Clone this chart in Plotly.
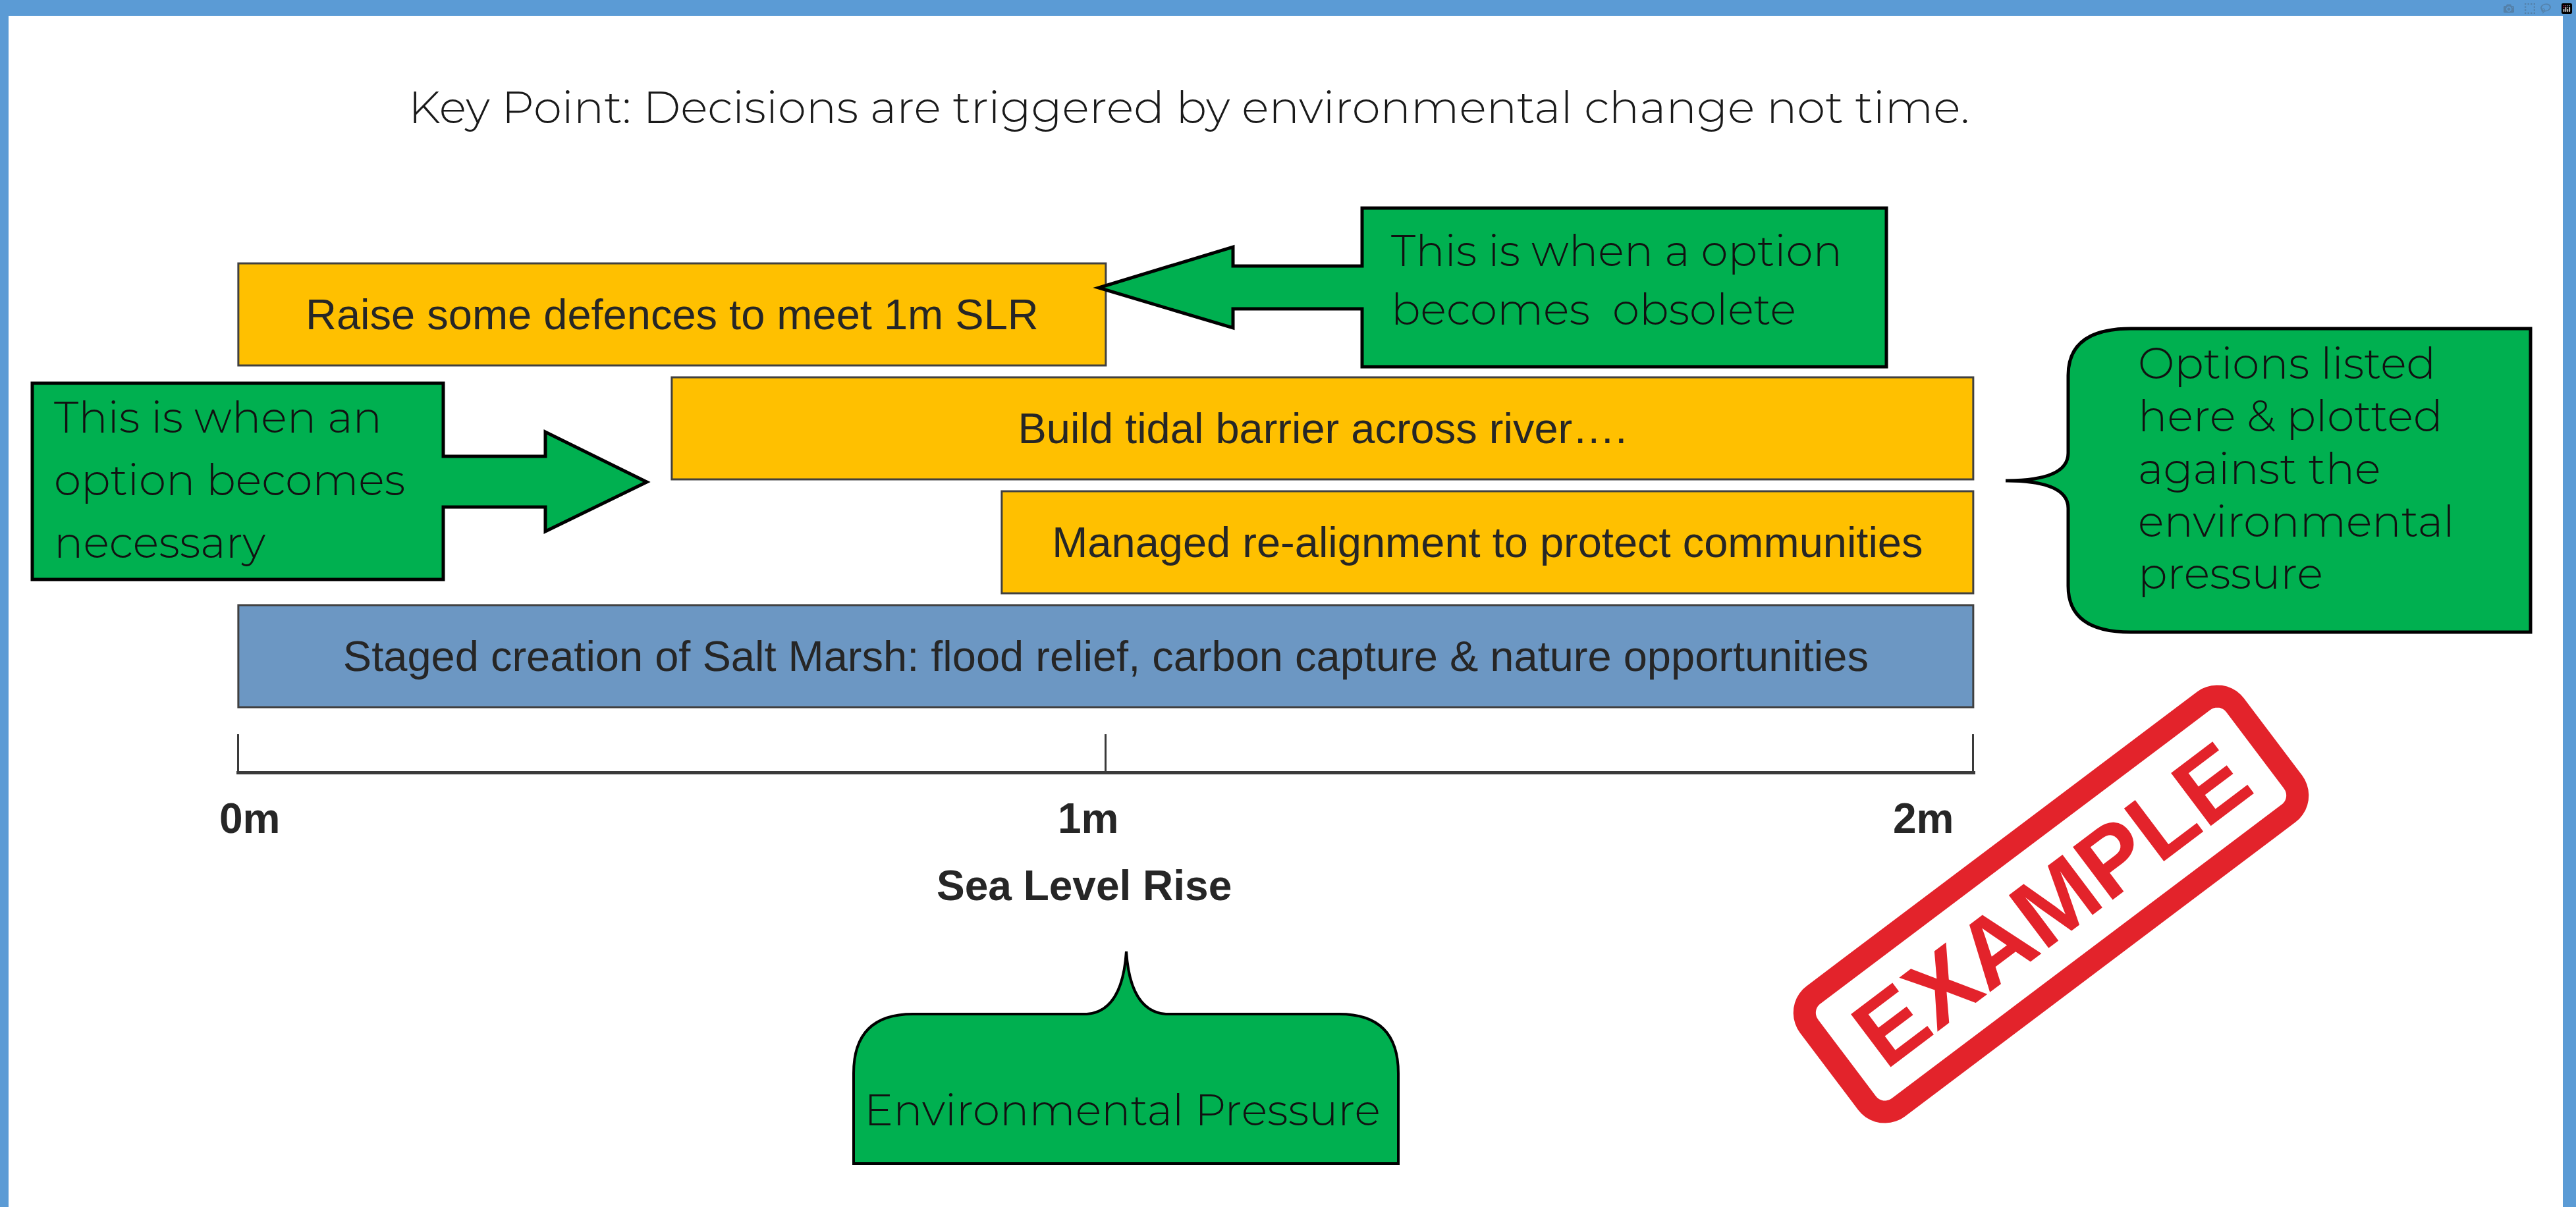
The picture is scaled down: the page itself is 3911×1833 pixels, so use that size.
import math
import plotly.graph_objects as go

W, H = 3911, 1833

# ---------------- data ----------------
options = [
    "Raise some defences to meet 1m SLR",
    "Build tidal barrier across river\u2026.",
    "Managed re-alignment to protect communities",
    "Staged creation of Salt Marsh: flood relief, carbon capture & nature opportunities",
]
option_start_m = [0.0, 0.5, 0.88, 0.0]
option_end_m = [1.0, 2.0, 2.0, 2.0]
option_colors = ["#FFC000", "#FFC000", "#FFC000", "#6C97C3"]

tick_vals = [0, 1, 2]
tick_labels = ["0m", "1m", "2m"]
axis_title = "Sea Level Rise"
title_text = "Key Point: Decisions are triggered by environmental change not time."

necessary_lines = ["This is when an", "option becomes", "necessary"]
obsolete_lines = ["This is when a option", "becomes  obsolete"]
listed_lines = ["Options listed", "here & plotted", "against the", "environmental", "pressure"]
pressure_text = "Environmental Pressure"
stamp_text = "EXAMPLE"

# ---------------- helpers ----------------
def px(x):
    return x / W


def py(y):
    return 1 - y / H


def P(x, y):
    return f"{px(x):.6f},{py(y):.6f}"


def poly(points):
    return "M " + " L ".join(P(x, y) for x, y in points) + " Z"


GREEN = "#00B050"
CALLOUT_FONT = "Montserrat, Inter, Open Sans, sans-serif"
BAR_FONT = "Liberation Sans, Arial, sans-serif"

# x axis: 0 m at 362 px, 2 m at 2996 px (tiny padding so end ticks are drawn)
X0_PX, X2_PX = 362, 2996
PX_PER_M = (X2_PX - X0_PX) / 2
PAD_M = 0.002
x_range = [tick_vals[0] - PAD_M, tick_vals[-1] + PAD_M]
x_domain = [(X0_PX - PAD_M * PX_PER_M) / W, (X2_PX + PAD_M * PX_PER_M) / W]

fig = go.Figure()

fig.add_trace(go.Bar(
    y=options,
    x=[e - s for s, e in zip(option_start_m, option_end_m)],
    base=option_start_m,
    orientation="h",
    width=0.9,
    marker=dict(color=option_colors, line=dict(color="#404040", width=3)),
    text=options,
    textposition="inside",
    insidetextanchor="middle",
    textangle=0,
    constraintext="none",
    textfont=dict(family=BAR_FONT, size=65, color="#262626"),
    hoverinfo="skip",
    showlegend=False,
))

shapes = []
# white page on blue frame
shapes.append(dict(type="rect", xref="paper", yref="paper",
                   x0=px(13), x1=px(3891), y0=py(H), y1=py(24),
                   fillcolor="white", line=dict(width=0), layer="below"))

# left callout (arrow to the right)
shapes.append(dict(type="path", xref="paper", yref="paper", layer="above",
                   path=poly([(49, 582), (673, 582), (673, 693), (828, 693), (828, 656), (982, 732),
                              (828, 807), (828, 770), (673, 770), (673, 880), (49, 880)]),
                   fillcolor=GREEN, line=dict(color="black", width=5)))
# top callout (arrow to the left)
shapes.append(dict(type="path", xref="paper", yref="paper", layer="above",
                   path=poly([(2068, 316), (2864, 316), (2864, 557), (2068, 557), (2068, 469),
                              (1872, 469), (1872, 498), (1668, 437), (1872, 375), (1872, 404),
                              (2068, 404)]),
                   fillcolor=GREEN, line=dict(color="black", width=5)))
# right brace callout
brace = ("M " + P(3842, 499) + " L " + P(3235, 499) + " Q " + P(3140, 499) + " " + P(3140, 570)
         + " L " + P(3140, 688) + " Q " + P(3140, 730) + " " + P(3045, 730)
         + " Q " + P(3140, 730) + " " + P(3140, 772)
         + " L " + P(3140, 890) + " Q " + P(3140, 960) + " " + P(3235, 960)
         + " L " + P(3842, 960) + " Z")
shapes.append(dict(type="path", xref="paper", yref="paper", layer="above", path=brace,
                   fillcolor=GREEN, line=dict(color="black", width=5)))
# bottom callout (pointer up)
bottom = ("M " + P(1296, 1767) + " L " + P(1296, 1630) + " Q " + P(1296, 1540) + " " + P(1386, 1540)
          + " L " + P(1650, 1540) + " Q " + P(1704, 1536) + " " + P(1710, 1445)
          + " Q " + P(1716, 1536) + " " + P(1770, 1540)
          + " L " + P(2033, 1540) + " Q " + P(2123, 1540) + " " + P(2123, 1630)
          + " L " + P(2123, 1767) + " Z")
shapes.append(dict(type="path", xref="paper", yref="paper", layer="above", path=bottom,
                   fillcolor=GREEN, line=dict(color="black", width=4)))


# EXAMPLE stamp border (rotated rounded rectangle)
def stamp_path(cx, cy, w, h, r, ang_deg, n=10):
    a = math.radians(ang_deg)
    pts = []
    corners = [(w / 2 - r, h / 2 - r, 0), (-w / 2 + r, h / 2 - r, 90),
               (-w / 2 + r, -h / 2 + r, 180), (w / 2 - r, -h / 2 + r, 270)]
    for ccx, ccy, start in corners:
        for k in range(n + 1):
            t = math.radians(start + 90 * k / n)
            lx = ccx + r * math.cos(t)
            ly = ccy + r * math.sin(t)
            rx = lx * math.cos(a) - ly * math.sin(a)
            ry = lx * math.sin(a) + ly * math.cos(a)
            pts.append((cx + rx, cy - ry))
    return poly(pts)


STAMP_RED = "#E3232B"
shapes.append(dict(type="path", xref="paper", yref="paper", layer="above",
                   path=stamp_path(3114, 1373, 810, 214, 34, 37),
                   line=dict(color=STAMP_RED, width=34), fillcolor="rgba(0,0,0,0)"))

annotations = []
annotations.append(dict(text=title_text, x=px(1805), y=py(162), xref="paper", yref="paper",
                        showarrow=False, xanchor="center", yanchor="middle",
                        font=dict(family=CALLOUT_FONT, size=69, color="#1a1a1a", weight=300)))

CF = 66
for line, yy in zip(necessary_lines, [633, 729, 823]):
    annotations.append(dict(text=line, x=px(80), y=py(yy), xref="paper", yref="paper",
                            showarrow=False, xanchor="left", yanchor="middle",
                            font=dict(family=CALLOUT_FONT, size=CF, color="#111111", weight=300)))
for line, yy in zip(obsolete_lines, [380, 470]):
    annotations.append(dict(text=line, x=px(2110), y=py(yy), xref="paper", yref="paper",
                            showarrow=False, xanchor="left", yanchor="middle",
                            font=dict(family=CALLOUT_FONT, size=CF, color="#111111", weight=300)))
for line, yy in zip(listed_lines, [551, 631, 711, 791, 870]):
    annotations.append(dict(text=line, x=px(3244), y=py(yy), xref="paper", yref="paper",
                            showarrow=False, xanchor="left", yanchor="middle",
                            font=dict(family=CALLOUT_FONT, size=CF, color="#111111", weight=300)))
annotations.append(dict(text=pressure_text, x=px(1704), y=py(1685), xref="paper", yref="paper",
                        showarrow=False, xanchor="center", yanchor="middle",
                        font=dict(family=CALLOUT_FONT, size=CF, color="#111111", weight=300)))

# tick labels and axis title
tick_anchor = ["center", "center", "right"]
tick_shift = [18, -26, -27]
for v, lab, anc, sh in zip(tick_vals, tick_labels, tick_anchor, tick_shift):
    annotations.append(dict(text=lab, x=v, xref="x", y=py(1243), yref="paper", showarrow=False,
                            xanchor=anc, yanchor="middle", xshift=sh,
                            font=dict(family=BAR_FONT, size=64, color="#262626", weight="bold")))
annotations.append(dict(text=axis_title, x=tick_vals[1], xref="x", y=py(1345), yref="paper",
                        showarrow=False, xanchor="center", yanchor="middle", xshift=-33,
                        font=dict(family=BAR_FONT, size=64, color="#262626", weight="bold")))

# stamp text
annotations.append(dict(text=stamp_text, x=px(3114), y=py(1373), xref="paper", yref="paper",
                        showarrow=False, xanchor="center", yanchor="middle", textangle=-37,
                        font=dict(family="Liberation Sans Narrow, Arial Narrow, Liberation Sans, sans-serif",
                                  size=146, color=STAMP_RED, weight="bold")))

fig.update_layout(
    width=W, height=H,
    margin=dict(l=0, r=0, t=0, b=0),
    paper_bgcolor="#5B9BD5",
    plot_bgcolor="white",
    shapes=shapes,
    annotations=annotations,
    bargap=0,
    xaxis=dict(
        domain=x_domain, range=x_range,
        anchor="free", position=py(1173),
        showgrid=False, zeroline=False,
        showline=True, linecolor="#3a3a3a", linewidth=5,
        ticks="inside", ticklen=56, tickwidth=3, tickcolor="#3a3a3a",
        tickvals=tick_vals, showticklabels=False, fixedrange=True,
    ),
    yaxis=dict(
        domain=[py(1083.5), py(391.5)], type="category",
        categoryorder="array", categoryarray=options,
        range=[3.5, -0.5], visible=False, fixedrange=True,
    ),
)

fig.write_html("out.html", post_script="document.body.style.margin='0';document.body.style.overflow='hidden';")
